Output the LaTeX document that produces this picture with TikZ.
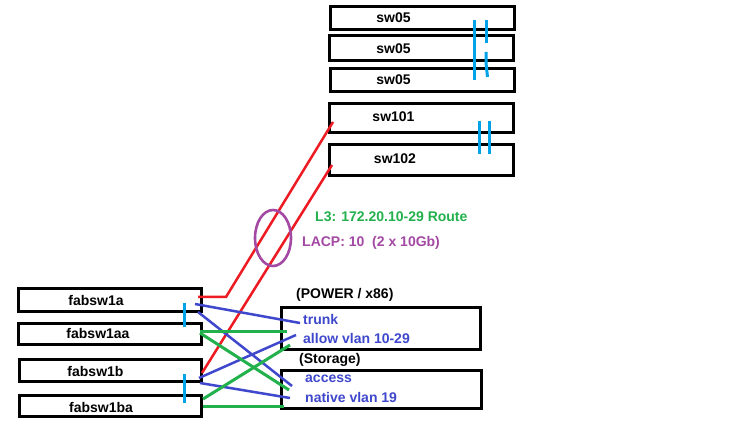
\documentclass[tikz,border=0pt]{standalone}
\usepackage{fontspec}
\setmainfont{Liberation Sans}
\usetikzlibrary{shapes.geometric}
\definecolor{pred}{RGB}{237,28,36}
\definecolor{pblue}{RGB}{63,72,204}
\definecolor{pgreen}{RGB}{34,177,76}
\definecolor{pcyan}{RGB}{0,162,232}
\definecolor{ppurple}{RGB}{163,73,164}
\begin{document}
\begin{tikzpicture}[x=1bp,y=-1bp,
  box/.style={draw=black,line width=3bp,inner sep=0pt,rectangle},
  lbl/.style={font=\fontsize{14bp}{16bp}\selectfont\bfseries,inner sep=0pt},
  redl/.style={draw=pred,line width=2.5bp},
  bluel/.style={draw=pblue,line width=2.5bp},
  greenl/.style={draw=pgreen,line width=3bp},
  tick/.style={draw=pcyan,line width=3bp}]
\useasboundingbox[fill=white] (0,0) rectangle (746,444);
% top switches
\node[box,minimum width=184bp,minimum height=23bp] (s1) at (422.5,18) {};
\node[box,minimum width=184bp,minimum height=25bp] (s2) at (421.5,48) {};
\node[box,minimum width=184bp,minimum height=23.5bp] (s3) at (422.5,79.8) {};
\node[box,minimum width=184bp,minimum height=29.5bp] (s101) at (421.5,117.8) {};
\node[box,minimum width=184bp,minimum height=31bp] (s102) at (421.5,160) {};
\node[lbl] (t1) at (393.5,18) {sw05};
\node[lbl] (t2) at (393.5,49) {sw05};
\node[lbl] (t3) at (393.5,80) {sw05};
\node[lbl] (t101) at (393.5,117) {sw101};
\node[lbl] (t102) at (395,159) {sw102};
% fabric switches
\node[box,minimum width=183bp,minimum height=23bp] (fa) at (110,300) {};
\node[box,minimum width=183bp,minimum height=21bp] (faa) at (110,334) {};
\node[box,minimum width=182bp,minimum height=22bp] (fb) at (110.5,370.5) {};
\node[box,minimum width=182bp,minimum height=21bp] (fba) at (110.5,406) {};
\node[lbl] (tfa) at (96,300) {fabsw1a};
\node[lbl] (tfaa) at (98,333) {fabsw1aa};
\node[lbl] (tfb) at (95.5,371) {fabsw1b};
\node[lbl] (tfba) at (101,407) {fabsw1ba};
% server boxes
\node[box,minimum width=199bp,minimum height=42bp] (pw) at (381,328.5) {};
\node[box,minimum width=200bp,minimum height=38bp] (st) at (381.5,389.5) {};
\node[lbl,anchor=west] (tpw) at (296,295) {(POWER / x86)};
\node[lbl,anchor=west] (tst) at (299,360) {(Storage)};
\node[lbl,anchor=west,text=pblue] (ttr) at (303,319) {trunk};
\node[lbl,anchor=west,text=pblue] (tal) at (303,338) {allow vlan 10-29};
\node[lbl,anchor=west,text=pblue] (tac) at (305,379) {access};
\node[lbl,anchor=west,text=pblue] (tnv) at (305,397) {native vlan 19};
\node[lbl,anchor=west,text=pgreen] (tl3) at (315,217) {L3: 172.20.10-29 Route};
\node[lbl,anchor=west,text=ppurple] (tlacp) at (302,243) {LACP: 10\ \ (2 x 10Gb)};
% connector endpoints
\coordinate (ra0) at (198,297);
\coordinate (ra1) at (226,297);
\coordinate (ra2) at (333,122);
\coordinate (rb0) at (202,373);
\coordinate (rb1) at (332,165);
\coordinate (b1a) at (195,304); \coordinate (b1b) at (300,323);
\coordinate (b2a) at (198,312); \coordinate (b2b) at (292,386);
\coordinate (b3a) at (199,378); \coordinate (b3b) at (296,335);
\coordinate (b4a) at (200,383); \coordinate (b4b) at (290,398);
\coordinate (g1a) at (200,332); \coordinate (g1b) at (287,332);
\coordinate (g2a) at (200,333); \coordinate (g2b) at (289,390);
\coordinate (g3a) at (203,399); \coordinate (g3b) at (290,345);
\coordinate (g4a) at (203,406); \coordinate (g4b) at (284,406);
% red uplinks
\draw[redl] (ra0) -- (ra1) -- (ra2);
\draw[redl] (rb0) -- (rb1);
\node[draw=ppurple,line width=2.6bp,ellipse,minimum width=36bp,minimum height=56bp,inner sep=0pt] (lag) at (273,238) {};
% blue links
\draw[bluel] (b1a) -- (b1b);
\draw[bluel] (b2a) -- (b2b);
\draw[bluel] (b3a) -- (b3b);
\draw[bluel] (b4a) -- (b4b);
% green links
\draw[greenl] (g1a) -- (g1b);
\draw[greenl] (g2a) -- (g2b);
\draw[greenl] (g3a) -- (g3b);
\draw[greenl] (g4a) -- (g4b);
% cyan ticks
\draw[tick] (184,303) -- (184,327);
\draw[tick] (184,374) -- (184,403);
\draw[tick] (474,20) -- (474,80);
\draw[tick] (486,20) -- (486,43);
\draw[tick] (486,52) -- (486,63) -- (487.5,77);
\draw[tick] (479,121) -- (479,154);
\draw[tick] (489,121) -- (489,154);
\end{tikzpicture}
\end{document}
